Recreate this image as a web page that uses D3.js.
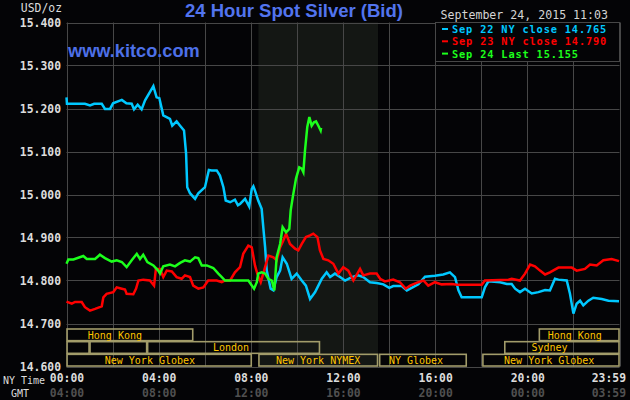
<!DOCTYPE html>
<html><head><meta charset="utf-8">
<script src="https://cdn.jsdelivr.net/npm/d3@7/dist/d3.min.js"></script>
<style>
html,body{margin:0;padding:0;background:#040406;}
svg{display:block;}
</style></head><body>
<svg id="c" width="630" height="400"></svg>
<script>
// ---- data (NY time hours, USD/oz) ----
const sep22 = [[0,15.226],[0.02,15.211],[0.8,15.211],[1.02,15.207],[1.2,15.211],[1.53,15.211],[1.67,15.199],[1.89,15.199],[2.02,15.212],[2.4,15.220],[2.6,15.212],[2.83,15.211],[2.93,15.198],[3.09,15.209],[3.26,15.198],[3.41,15.219],[3.77,15.252],[3.91,15.226],[4.03,15.224],[4.2,15.184],[4.49,15.176],[4.59,15.160],[4.78,15.170],[4.93,15.160],[5.10,15.149],[5.19,15.095],[5.24,15.017],[5.36,15.003],[5.58,14.990],[5.72,15.003],[6.01,15.017],[6.18,15.057],[6.30,15.056],[6.52,15.056],[6.66,15.044],[6.81,15.017],[6.91,14.986],[7.10,14.982],[7.31,14.988],[7.44,14.975],[7.53,14.978],[7.75,14.990],[7.93,14.972],[8.04,15.013],[8.11,15.019],[8.18,15.009],[8.32,14.986],[8.47,14.967],[8.54,14.924],[8.62,14.877],[8.69,14.823],[8.86,14.781],[8.98,14.777],[9.12,14.808],[9.27,14.823],[9.38,14.854],[9.56,14.839],[9.77,14.804],[9.99,14.816],[10.21,14.800],[10.39,14.788],[10.57,14.757],[10.79,14.773],[10.93,14.788],[11.08,14.804],[11.29,14.819],[11.44,14.808],[11.65,14.816],[11.87,14.808],[12.09,14.800],[12.38,14.808],[12.66,14.812],[12.88,14.808],[13.17,14.796],[13.46,14.794],[13.75,14.791],[14.01,14.783],[14.18,14.787],[14.55,14.787],[14.77,14.777],[14.98,14.783],[15.27,14.791],[15.56,14.809],[15.99,14.811],[16.35,14.814],[16.64,14.819],[16.86,14.808],[17.01,14.777],[17.15,14.761],[18.02,14.761],[18.16,14.784],[18.31,14.798],[18.82,14.796],[19.11,14.792],[19.32,14.792],[19.47,14.781],[19.68,14.773],[19.90,14.781],[20.19,14.770],[20.48,14.773],[20.77,14.778],[20.98,14.777],[21.20,14.804],[21.35,14.802],[21.71,14.800],[21.85,14.769],[22.00,14.723],[22.14,14.746],[22.29,14.753],[22.43,14.742],[22.65,14.753],[22.86,14.760],[23.23,14.757],[23.52,14.753],[23.98,14.752]];
const sep23 = [[0,14.751],[0.23,14.746],[0.37,14.750],[0.66,14.750],[0.80,14.738],[1.02,14.730],[1.24,14.734],[1.53,14.740],[1.60,14.761],[1.74,14.769],[2.03,14.773],[2.18,14.784],[2.32,14.782],[2.54,14.779],[2.61,14.769],[2.90,14.768],[3.02,14.781],[3.12,14.800],[3.33,14.802],[3.62,14.800],[3.80,14.788],[3.88,14.827],[4.06,14.827],[4.20,14.808],[4.35,14.823],[4.57,14.821],[4.78,14.808],[5.00,14.804],[5.14,14.812],[5.36,14.808],[5.50,14.788],[5.72,14.781],[5.94,14.784],[6.15,14.800],[6.52,14.800],[6.74,14.796],[6.88,14.800],[7.10,14.800],[7.31,14.819],[7.53,14.831],[7.67,14.862],[7.89,14.881],[8.04,14.877],[8.18,14.835],[8.28,14.816],[8.43,14.796],[8.54,14.816],[8.76,14.858],[8.98,14.854],[9.12,14.847],[9.27,14.877],[9.41,14.893],[9.53,14.909],[9.70,14.885],[9.92,14.874],[10.06,14.870],[10.21,14.885],[10.39,14.901],[10.57,14.905],[10.71,14.909],[10.89,14.901],[11.00,14.870],[11.15,14.850],[11.36,14.847],[11.58,14.839],[11.80,14.816],[12.01,14.831],[12.23,14.823],[12.45,14.800],[12.74,14.827],[12.88,14.812],[13.17,14.816],[13.46,14.816],[13.61,14.804],[13.82,14.798],[14.18,14.802],[14.47,14.796],[14.72,14.781],[14.91,14.788],[15.27,14.796],[15.49,14.800],[15.70,14.788],[15.99,14.796],[16.28,14.791],[16.72,14.792],[16.94,14.790],[18.02,14.790],[18.16,14.800],[19.18,14.802],[19.32,14.804],[19.68,14.800],[19.90,14.816],[20.12,14.837],[20.33,14.833],[20.55,14.823],[20.77,14.814],[20.98,14.819],[21.35,14.830],[21.93,14.830],[22.14,14.823],[22.50,14.827],[22.72,14.837],[23.01,14.835],[23.30,14.847],[23.66,14.850],[23.98,14.845]];
const sep24 = [[0,14.839],[0.08,14.849],[0.30,14.849],[0.73,14.857],[0.88,14.850],[1.24,14.850],[1.45,14.860],[1.67,14.852],[1.96,14.844],[2.18,14.847],[2.40,14.843],[2.61,14.831],[2.83,14.847],[3.05,14.862],[3.19,14.850],[3.33,14.860],[3.51,14.843],[3.77,14.835],[3.98,14.823],[4.06,14.816],[4.20,14.833],[4.49,14.837],[4.71,14.833],[4.93,14.841],[5.14,14.847],[5.36,14.844],[5.58,14.854],[5.72,14.852],[5.87,14.835],[6.09,14.835],[6.37,14.829],[6.59,14.816],[6.74,14.808],[6.88,14.800],[7.89,14.800],[8.14,14.781],[8.26,14.796],[8.32,14.816],[8.47,14.819],[8.62,14.816],[8.76,14.804],[8.91,14.800],[9.02,14.777],[9.12,14.854],[9.27,14.885],[9.38,14.924],[9.53,14.912],[9.67,14.920],[9.73,14.963],[9.82,14.994],[9.96,15.037],[10.10,15.063],[10.21,15.060],[10.28,15.052],[10.35,15.102],[10.45,15.157],[10.54,15.180],[10.64,15.160],[10.74,15.168],[10.83,15.170],[10.93,15.160],[11.03,15.149],[11.05,15.155]];
const seriesLabels = ["Sep 22 NY close 14.765","Sep 23 NY close 14.790","Sep 24 Last 15.155"];
const yTicks = [14.6,14.7,14.8,14.9,15.0,15.1,15.2,15.3,15.4];
const gridHours = [0,2,4,6,8,10,12,14,16,18,20,22,24];
const nyTickHours = [0,4,8,12,16,20,24];
const nyTickLabels = ["00:00","04:00","08:00","12:00","16:00","20:00","23:59"];
const gmtTickLabels = ["04:00","08:00","12:00","16:00","20:00","00:00","03:59"];
const nymexHours = [8.33, 13.52];
const sessionRows = [0,0,1,1,1,1,2,2,2,2];
const sessionStart = [0,20.5,0,1.0,3.5,19.0,0,8.33,13.57,18.05];
const sessionEnd   = [5.5,24,1.0,3.5,11.0,24,8.04,13.52,17.37,24];
const sessionLabels= ["Hong Kong","Hong Kong","","","London","Sydney","New York Globex","New York NYMEX","NY Globex","New York Globex"];
const sessionLabelAt=[2.1,22.06,0,0,7.14,20.96,3.62,10.92,15.17,20.95];

// ---- drawing ----
const W=630,H=400, L=66.5, R=619.5, T=22.5, B=366.5;
const svg=d3.select("#c");
const x=d3.scaleLinear().domain([0,24]).range([L,R]);
const y=d3.scaleLinear().domain([14.6,15.4]).range([B,T]);
const mono="'DejaVu Sans Mono', monospace";
const gridCol="#474747";

svg.append("rect").attr("width",W).attr("height",H).attr("fill","#040406");
svg.append("rect").attr("x",x(nymexHours[0])).attr("y",T)
  .attr("width",x(nymexHours[1])-x(nymexHours[0])).attr("height",B-T).attr("fill","#141714");

svg.append("g").selectAll("line").data(yTicks).join("line")
  .attr("x1",L).attr("x2",R).attr("y1",d=>Math.round(y(d))+0.5).attr("y2",d=>Math.round(y(d))+0.5)
  .attr("stroke",gridCol).attr("stroke-width",1);
svg.append("g").selectAll("line").data(gridHours).join("line")
  .attr("x1",d=>Math.round(x(d))+0.5).attr("x2",d=>Math.round(x(d))+0.5).attr("y1",T).attr("y2",B)
  .attr("stroke",gridCol).attr("stroke-width",1);

// legend box
const lx=Math.round(x(16))+0.5;
svg.append("rect").attr("x",lx).attr("y",T).attr("width",R-lx).attr("height",39)
  .attr("fill","#040406").attr("stroke",gridCol).attr("stroke-width",1);

// session boxes
const rowTop=r=>B-38+r*12.67;
const sg=svg.append("g");
sessionRows.forEach((r,i)=>{
  sg.append("rect").attr("x",x(sessionStart[i])+0.5).attr("y",rowTop(r)+0.5)
    .attr("width",x(sessionEnd[i])-x(sessionStart[i])-1).attr("height",12.67-1)
    .attr("fill","none").attr("stroke","#a29c6a").attr("stroke-width",1.6);
  if(sessionLabels[i]) sg.append("text").attr("x",x(sessionLabelAt[i])).attr("y",rowTop(r)+10.3)
    .attr("text-anchor","middle").attr("fill","#ffc400").attr("font-family",mono).attr("font-size",10)
    .text(sessionLabels[i]);
});

// series lines
const colors=["#00c8ff","#ff0000","#1cff1c"];
const line=d3.line().x(d=>x(d[0])).y(d=>y(d[1]));
[sep22,sep23,sep24].forEach((s,i)=>{
  svg.append("path").datum(s).attr("d",line).attr("fill","none")
    .attr("stroke",colors[i]).attr("stroke-width",2.5).attr("stroke-linejoin","miter");
});

// y axis
const ya=svg.append("g").attr("transform",`translate(${L},0)`)
  .call(d3.axisLeft(y).tickValues(yTicks).tickFormat(d3.format(".3f")).tickSize(0).tickPadding(5.5));
ya.select(".domain").remove();
ya.selectAll("text").attr("fill","#dcdcdc").attr("font-family",mono).attr("font-size",11.4).attr("font-weight","bold");

// x axes
const xa=svg.append("g").attr("transform",`translate(0,${B})`)
  .call(d3.axisBottom(x).tickValues(nyTickHours).tickFormat((d,i)=>nyTickLabels[i]).tickSize(0).tickPadding(7));
xa.select(".domain").remove();
xa.selectAll("text").attr("fill","#dcdcdc").attr("font-family",mono).attr("font-size",11.4).attr("font-weight","bold");
xa.selectAll("text").filter((d,i)=>i===nyTickHours.length-1).attr("text-anchor","end").attr("dx",6);
const ga=svg.append("g").attr("transform",`translate(0,${B+15})`)
  .call(d3.axisBottom(x).tickValues(nyTickHours).tickFormat((d,i)=>gmtTickLabels[i]).tickSize(0).tickPadding(7));
ga.select(".domain").remove();
ga.selectAll("text").attr("fill","#505050").attr("font-family",mono).attr("font-size",11.4).attr("font-weight","bold");
ga.selectAll("text").filter((d,i)=>i===nyTickHours.length-1).attr("text-anchor","end").attr("dx",6);

svg.append("text").attr("x",3).attr("y",384).attr("fill","#dcdcdc").attr("font-family",mono).attr("font-size",10).text("NY Time");
svg.append("text").attr("x",11).attr("y",397).attr("fill","#dcdcdc").attr("font-family",mono).attr("font-size",10).text("GMT");
svg.append("text").attr("x",62).attr("y",12).attr("text-anchor","end").attr("fill","#dcdcdc").attr("font-family",mono).attr("font-size",11.4).text("USD/oz");

// titles
svg.append("text").attr("x",294).attr("y",17).attr("text-anchor","middle").attr("fill","#5274ee")
  .attr("font-family","'Liberation Sans', Arial, sans-serif").attr("font-weight","bold").attr("font-size",18.5)
  .text("24 Hour Spot Silver (Bid)");
svg.append("text").attr("x",68).attr("y",56.5).attr("fill","#4d70e8")
  .attr("font-family","'Liberation Sans', Arial, sans-serif").attr("font-weight","bold").attr("font-size",18.2)
  .text("www.kitco.com");

// legend
svg.append("text").attr("x",440.5).attr("y",19).attr("fill","#d4d4d4").attr("font-family",mono).attr("font-size",11.6)
  .text("September 24, 2015 11:03");
seriesLabels.forEach((t,i)=>{
  const by=33+i*12.3;
  svg.append("rect").attr("x",442).attr("y",by-5).attr("width",6).attr("height",2).attr("fill",colors[i]);
  svg.append("text").attr("x",452).attr("y",by).attr("fill",colors[i]).attr("font-family",mono)
    .attr("font-size",10.3).attr("letter-spacing",0.85).attr("font-weight","bold").text(t);
});
</script>
</body></html>
